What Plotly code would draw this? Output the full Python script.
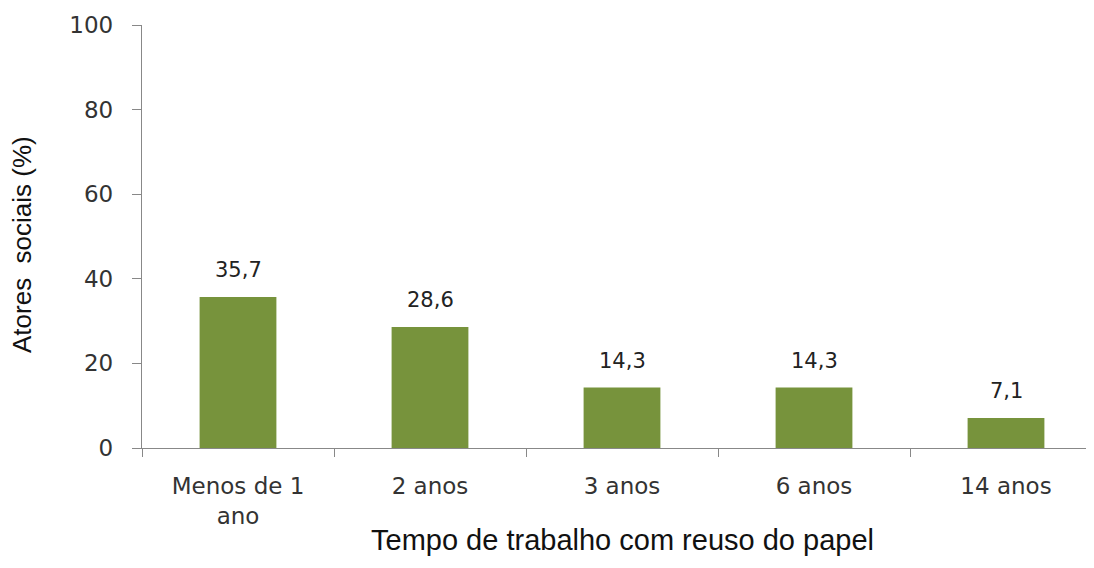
import plotly.graph_objects as go

categories = ["Menos de 1<br>ano", "2 anos", "3 anos", "6 anos", "14 anos"]
values = [35.7, 28.6, 14.3, 14.3, 7.1]
y_ticks = [0, 20, 40, 60, 80, 100]

W, H = 1078, 552
L, T, B = 134, 17, 112
plot_w = W - L
plot_h = H - T - B

fig = go.Figure()
fig.add_trace(go.Bar(
    x=categories, y=values,
    marker=dict(color="#77933C", line=dict(width=0)),
    width=0.4,
))

for c, v in zip(categories, values):
    fig.add_annotation(
        x=c, y=v, text=f"{v:.1f}".replace(".", ","),
        showarrow=False, yanchor="bottom", yshift=13,
        font=dict(family="DejaVu Sans", size=21, color="#222"),
    )

# axis titles
fig.add_annotation(
    text="Tempo de trabalho com reuso do papel", showarrow=False,
    xref="paper", yref="paper", x=(622 - 142) / plot_w, y=-(532 - (H - B)) / plot_h,
    xanchor="center", yanchor="middle",
    font=dict(family="Liberation Sans", size=29, color="#111"),
)
fig.add_annotation(
    text="Atores  sociais (%)", showarrow=False, textangle=-90,
    xref="paper", yref="paper", x=(14 - 134) / plot_w, y=(440 - 237) / plot_h,
    xanchor="center", yanchor="middle",
    font=dict(family="Liberation Sans Narrow, Liberation Sans", size=26, color="#111"),
)

fig.update_layout(
    width=W, height=H,
    margin=dict(l=L, r=0, t=T, b=B),
    plot_bgcolor="white", paper_bgcolor="white",
    showlegend=False,
    xaxis=dict(
        type="category",
        range=[-0.5, -0.5 + plot_w / 192],
        showline=True, linecolor="#888", linewidth=1.3,
        ticks="outside", tickson="boundaries", ticklen=8, tickcolor="#888", tickwidth=1.3,
        tickfont=dict(family="DejaVu Sans", size=23, color="#333"),
        ticklabelstandoff=17,
        showgrid=False,
    ),
    yaxis=dict(
        range=[0, 100], tickvals=y_ticks,
        showline=True, linecolor="#888", linewidth=1.3,
        ticks="outside", ticklen=9, tickcolor="#888", tickwidth=1.3,
        tickfont=dict(family="DejaVu Sans", size=23, color="#333"),
        ticklabelstandoff=14,
        showgrid=False, zeroline=False,
    ),
)
fig.write_html("out.html")
